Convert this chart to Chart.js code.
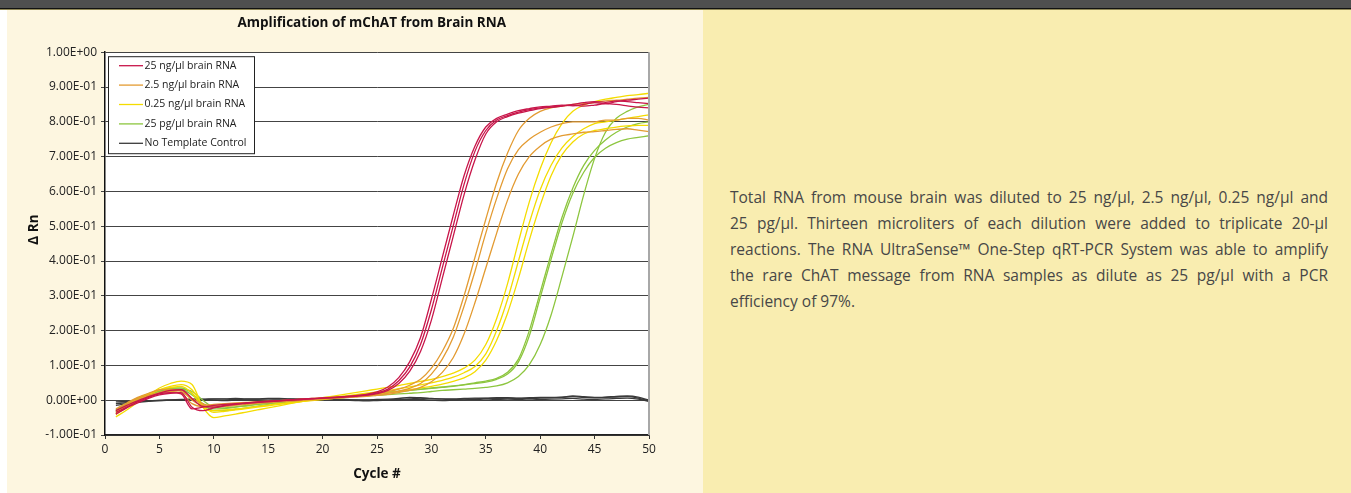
<!DOCTYPE html>
<html lang="en">
<head>
<meta charset="UTF-8">
<title>Amplification of mChAT from Brain RNA</title>
<script src="https://cdn.jsdelivr.net/npm/chart.js"></script>
<style>
  body { margin: 0; width: 1351px; height: 493px; background: #fff; position: relative; overflow: hidden; font-family: "Open Sans", sans-serif; }
  #topbar { position: absolute; left: 0; top: 0; width: 1351px; height: 8px; background: #4f4f4f; border-bottom: 1px solid #111; }
  #strip { position: absolute; left: 0; top: 9px; width: 1351px; height: 1px; background: #8f8655; }
  #left { position: absolute; left: 7px; top: 10px; width: 696px; height: 483px; background: #fdf6e0; }
  #right { position: absolute; left: 703px; top: 10px; width: 648px; height: 483px; background: #f9edb0; }
  #note { position: absolute; left: 730px; top: 184px; width: 598px; font-size: 15.5px; line-height: 26px; color: #474747; }
  #note div { text-align: justify; text-align-last: justify; white-space: nowrap; }
  #note div.last { text-align-last: left; }
  #chart { position: absolute; left: 7px; top: 10px; }
</style>
</head>
<body>
<div id="topbar"></div>
<div id="strip"></div>
<div id="left"></div>
<div id="right"></div>
<canvas id="chart" width="695" height="483"></canvas>
<div id="note">
  <div>Total RNA from mouse brain was diluted to 25 ng/µl, 2.5 ng/µl, 0.25 ng/µl and</div>
  <div>25 pg/µl. Thirteen microliters of each dilution were added to triplicate 20-µl</div>
  <div>reactions. The RNA UltraSense™ One-Step qRT-PCR System was able to amplify</div>
  <div>the rare ChAT message from RNA samples as dilute as 25 pg/µl with a PCR</div>
  <div class="last">efficiency of 97%.</div>
</div>

<script>
// cycle numbers 1..50
const cycles = [1,2,3,4,5,6,7,8,9,10,11,12,13,14,15,16,17,18,19,20,21,22,23,24,25,26,27,28,29,30,31,32,33,34,35,36,37,38,39,40,41,42,43,44,45,46,47,48,49,50];

const yTickLabels = ['-1.00E-01','0.00E+00','1.00E-01','2.00E-01','3.00E-01','4.00E-01','5.00E-01','6.00E-01','7.00E-01','8.00E-01','9.00E-01','1.00E+00'];

const groupLabels = ['25 ng/µl brain RNA', '2.5 ng/µl brain RNA', '0.25 ng/µl brain RNA', '25 pg/µl brain RNA', 'No Template Control'];
const groupColors = ['#c8164a', '#e39b32', '#f4dc00', '#8dc63f', '#3a3a3a'];

// 25 ng/ul (triplicate)
const red1 = [-0.035,-0.02,-0.005,0.008,0.018,0.022,0.018,-0.025,-0.02,-0.015,-0.012,-0.01,-0.008,-0.006,-0.004,-0.002,0.0,0.002,0.004,0.006,0.008,0.01,0.013,0.017,0.024,0.038,0.065,0.11,0.18,0.29,0.41,0.53,0.645,0.73,0.785,0.81,0.822,0.832,0.838,0.843,0.845,0.848,0.846,0.85,0.855,0.852,0.858,0.862,0.865,0.868];
const red2 = [-0.04,-0.022,-0.008,0.005,0.015,0.02,0.022,-0.02,-0.03,-0.022,-0.016,-0.012,-0.009,-0.006,-0.004,-0.002,0.0,0.002,0.004,0.006,0.007,0.009,0.011,0.015,0.021,0.032,0.056,0.095,0.16,0.26,0.38,0.5,0.62,0.715,0.775,0.805,0.818,0.828,0.835,0.84,0.842,0.845,0.848,0.845,0.848,0.852,0.85,0.846,0.842,0.84];
const red3 = [-0.03,-0.015,-0.002,0.01,0.02,0.028,0.03,0.005,-0.018,-0.02,-0.015,-0.011,-0.008,-0.005,-0.003,-0.001,0.001,0.003,0.005,0.006,0.008,0.01,0.012,0.014,0.019,0.028,0.048,0.083,0.14,0.23,0.35,0.47,0.59,0.69,0.765,0.8,0.815,0.825,0.832,0.838,0.842,0.846,0.85,0.855,0.858,0.856,0.86,0.858,0.855,0.852];

// 2.5 ng/ul
const orange1 = [-0.03,-0.012,0.005,0.015,0.022,0.03,0.028,0.0,-0.015,-0.012,-0.01,-0.008,-0.006,-0.004,-0.003,-0.001,0.001,0.003,0.005,0.007,0.009,0.011,0.013,0.016,0.02,0.025,0.032,0.043,0.06,0.092,0.14,0.205,0.3,0.41,0.52,0.625,0.71,0.775,0.81,0.83,0.84,0.845,0.85,0.852,0.855,0.86,0.862,0.865,0.868,0.87];
const orange2 = [-0.04,-0.02,0.0,0.012,0.02,0.025,0.02,-0.01,-0.018,-0.016,-0.013,-0.011,-0.009,-0.007,-0.005,-0.003,-0.001,0.001,0.003,0.005,0.007,0.009,0.011,0.013,0.016,0.02,0.026,0.034,0.048,0.075,0.118,0.18,0.27,0.37,0.48,0.58,0.665,0.72,0.75,0.77,0.785,0.795,0.8,0.8,0.8,0.805,0.805,0.81,0.81,0.805];
const orange3 = [-0.025,-0.008,0.008,0.02,0.03,0.032,0.025,0.005,-0.01,-0.02,-0.018,-0.015,-0.012,-0.009,-0.007,-0.005,-0.003,-0.001,0.001,0.003,0.005,0.007,0.009,0.011,0.014,0.017,0.022,0.028,0.037,0.053,0.08,0.122,0.19,0.28,0.38,0.48,0.575,0.65,0.7,0.73,0.75,0.76,0.765,0.77,0.772,0.775,0.778,0.78,0.776,0.772];

// 0.25 ng/ul
const yellow1 = [-0.048,-0.028,-0.006,0.015,0.035,0.048,0.055,0.045,-0.02,-0.05,-0.045,-0.04,-0.034,-0.028,-0.022,-0.016,-0.01,-0.004,0.002,0.007,0.012,0.017,0.022,0.027,0.032,0.037,0.042,0.048,0.054,0.06,0.068,0.078,0.092,0.115,0.16,0.235,0.335,0.455,0.57,0.665,0.74,0.795,0.83,0.848,0.858,0.865,0.87,0.875,0.878,0.882];
const yellow2 = [-0.04,-0.02,0.0,0.015,0.03,0.04,0.045,0.03,-0.015,-0.035,-0.032,-0.028,-0.024,-0.02,-0.016,-0.012,-0.008,-0.004,0.0,0.004,0.008,0.012,0.016,0.02,0.024,0.028,0.033,0.038,0.044,0.05,0.057,0.066,0.079,0.097,0.133,0.2,0.29,0.4,0.51,0.605,0.675,0.725,0.758,0.78,0.795,0.8,0.805,0.81,0.815,0.82];
const yellow3 = [-0.035,-0.015,0.005,0.018,0.03,0.036,0.04,0.02,-0.02,-0.03,-0.028,-0.025,-0.022,-0.018,-0.014,-0.01,-0.007,-0.004,-0.001,0.002,0.005,0.008,0.011,0.014,0.017,0.021,0.025,0.03,0.035,0.04,0.046,0.054,0.064,0.082,0.115,0.172,0.25,0.35,0.46,0.56,0.645,0.705,0.742,0.765,0.775,0.78,0.785,0.788,0.79,0.79];

// 25 pg/ul
const green1 = [-0.03,-0.012,0.005,0.018,0.028,0.035,0.035,0.02,-0.015,-0.025,-0.024,-0.02,-0.016,-0.012,-0.009,-0.006,-0.003,0.0,0.003,0.005,0.008,0.011,0.014,0.017,0.02,0.023,0.026,0.029,0.032,0.035,0.038,0.041,0.045,0.05,0.055,0.063,0.08,0.118,0.2,0.31,0.42,0.525,0.61,0.675,0.718,0.748,0.77,0.785,0.795,0.8];
const green2 = [-0.035,-0.015,0.003,0.015,0.025,0.03,0.03,0.015,-0.01,-0.03,-0.03,-0.026,-0.022,-0.017,-0.012,-0.008,-0.004,-0.001,0.002,0.004,0.007,0.01,0.013,0.016,0.019,0.022,0.025,0.028,0.031,0.034,0.037,0.04,0.044,0.048,0.052,0.06,0.075,0.11,0.185,0.295,0.405,0.51,0.595,0.655,0.698,0.724,0.74,0.75,0.755,0.76];
const green3 = [-0.028,-0.01,0.006,0.017,0.026,0.033,0.032,0.025,0.0,-0.02,-0.022,-0.019,-0.016,-0.012,-0.009,-0.006,-0.003,0.0,0.002,0.004,0.006,0.008,0.01,0.012,0.014,0.016,0.018,0.02,0.022,0.025,0.028,0.03,0.032,0.034,0.037,0.041,0.05,0.068,0.102,0.16,0.245,0.355,0.47,0.59,0.695,0.77,0.81,0.83,0.843,0.85];

// no template control
const ntc1 = [-0.015,-0.01,-0.006,-0.003,-0.001,0.0,0.001,0.002,0.002,0.003,0.003,0.002,0.003,0.003,0.004,0.003,0.003,0.002,0.002,0.003,0.002,0.001,0.001,0.0,0.0,0.001,0.002,0.004,0.006,0.004,0.003,0.002,0.003,0.004,0.005,0.005,0.006,0.005,0.005,0.006,0.007,0.008,0.01,0.008,0.007,0.008,0.009,0.01,0.006,-0.002];
const ntc2 = [-0.005,-0.004,-0.003,-0.002,-0.001,0.0,0.0,0.001,0.001,0.0,-0.001,0.0,0.001,0.001,0.0,0.0,-0.001,0.0,0.0,0.001,0.001,0.0,-0.001,-0.002,-0.001,0.0,0.001,0.002,0.002,0.0,-0.001,0.0,0.001,0.002,0.001,0.002,0.003,0.002,0.001,0.002,0.003,0.004,0.005,0.003,0.002,0.004,0.005,0.006,0.003,-0.004];
const ntc3 = [-0.01,-0.007,-0.004,-0.002,0.0,0.001,0.002,0.003,0.003,0.004,0.004,0.005,0.004,0.004,0.005,0.005,0.004,0.004,0.003,0.003,0.002,0.002,0.001,0.001,0.002,0.003,0.005,0.008,0.007,0.005,0.004,0.004,0.005,0.006,0.006,0.007,0.007,0.006,0.007,0.008,0.008,0.009,0.012,0.01,0.008,0.009,0.011,0.012,0.009,0.0];

const groups = [
  [red1, red2, red3],
  [orange1, orange2, orange3],
  [yellow1, yellow2, yellow3],
  [green1, green2, green3],
  [ntc1, ntc2, ntc3]
];

const datasets = [];
groups.forEach((reps, g) => {
  reps.forEach(vals => {
    datasets.push({
      label: groupLabels[g],
      data: vals,
      borderColor: groupColors[g],
      borderWidth: 1.3,
      pointRadius: 0,
      cubicInterpolationMode: 'monotone',
      fill: false
    });
  });
});

// white plot area + grey right edge
const plotFrame = {
  id: 'plotFrame',
  beforeDraw(chart) {
    const { ctx, chartArea: a } = chart;
    ctx.save();
    ctx.fillStyle = '#ffffff';
    ctx.fillRect(a.left, a.top, a.right - a.left, a.bottom - a.top);
    ctx.restore();
  },
  afterDraw(chart) {
    const { ctx, chartArea: a } = chart;
    ctx.save();
    ctx.strokeStyle = '#a8a8a8';
    ctx.lineWidth = 2;
    ctx.beginPath();
    ctx.moveTo(a.right, a.top);
    ctx.lineTo(a.right, a.bottom);
    ctx.stroke();
    ctx.restore();
  }
};

// boxed legend in the top-left corner of the plot
const boxLegend = {
  id: 'boxLegend',
  afterDatasetsDraw(chart) {
    const { ctx, chartArea: a } = chart;
    const x = a.left + 3.5, y = a.top + 4.5, w = 146, h = 97;
    ctx.save();
    ctx.fillStyle = '#ffffff';
    ctx.fillRect(x, y, w, h);
    ctx.strokeStyle = '#222';
    ctx.lineWidth = 1;
    ctx.strokeRect(x, y, w, h);
    ctx.font = '10.5px "Open Sans", sans-serif';
    ctx.textBaseline = 'middle';
    ctx.fillStyle = '#222';
    groupLabels.forEach((label, i) => {
      const ly = y + 9 + i * 19.4;
      ctx.strokeStyle = groupColors[i];
      ctx.lineWidth = 1.3;
      ctx.beginPath();
      ctx.moveTo(a.left + 14, ly);
      ctx.lineTo(a.left + 38, ly);
      ctx.stroke();
      ctx.fillText(label, a.left + 39.5, ly);
    });
    ctx.restore();
  }
};

Chart.defaults.font.family = '"Open Sans", sans-serif';
Chart.defaults.color = '#222';

new Chart(document.getElementById('chart'), {
  type: 'line',
  data: { labels: cycles, datasets: datasets },
  options: {
    responsive: false,
    animation: false,
    devicePixelRatio: 1,
    layout: { padding: { left: 0, right: 53, top: 0, bottom: 0 } },
    plugins: {
      legend: { display: false },
      tooltip: { enabled: false },
      title: {
        display: true,
        fullSize: false,
        text: 'Amplification of mChAT from Brain RNA   ',
        color: '#111',
        font: { size: 13.5, weight: 'bold', lineHeight: 1.2 },
        padding: { top: 5, bottom: 21 }
      }
    },
    scales: {
      x: {
        type: 'linear',
        min: 0,
        max: 50,
        afterFit(scale) { scale.height = 58; },
        ticks: { stepSize: 5, padding: 3, font: { size: 12 }, color: '#222', maxRotation: 0 },
        grid: { drawOnChartArea: false, drawTicks: true, tickLength: 4, color: '#333' },
        border: { color: '#222', width: 1.5 },
        title: {
          display: true,
          text: 'Cycle #',
          color: '#111',
          font: { size: 13.5, weight: 'bold', lineHeight: 1.2 },
          padding: { top: 0, bottom: 11 }
        }
      },
      y: {
        min: -0.1,
        max: 1.0,
        afterFit(scale) { scale.width = 98; },
        ticks: {
          stepSize: 0.1,
          padding: 4,
          font: { size: 12 },
          color: '#222',
          callback: (v, i) => yTickLabels[i]
        },
        grid: { color: '#444', lineWidth: 1, tickLength: 4 },
        border: { color: '#111', width: 1.5 },
        title: {
          display: true,
          text: '        Δ Rn',
          color: '#111',
          font: { size: 13.5, weight: 'bold', lineHeight: 1.2 },
          padding: { top: 19, bottom: 0 }
        }
      }
    }
  },
  plugins: [plotFrame, boxLegend]
});
</script>
</body>
</html>
